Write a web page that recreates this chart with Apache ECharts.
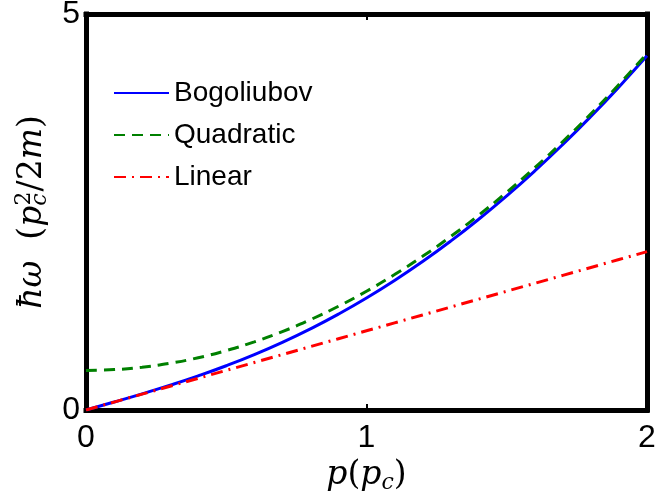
<!DOCTYPE html>
<html>
<head>
<meta charset="utf-8">
<script src="https://cdn.jsdelivr.net/npm/echarts@6/dist/echarts.min.js"></script>
<style>
  html, body { margin: 0; padding: 0; background: #fff; }
  #chart { width: 655px; height: 496px; }
</style>
</head>
<body>
<div id="chart"></div>
<script>
// momentum p in units of p_c
const momentum = [0, 0.1, 0.2, 0.3, 0.4, 0.5, 0.6, 0.7, 0.8, 0.9, 1.0,
                  1.1, 1.2, 1.3, 1.4, 1.5, 1.6, 1.7, 1.8, 1.9, 2.0];
// energies in units of p_c^2/2m
const bogoliubov = [0, 0.1005, 0.2040, 0.3132, 0.4308, 0.5590, 0.6997, 0.8545, 1.0245, 1.2108, 1.4142,
                    1.6353, 1.8745, 2.1322, 2.4087, 2.7042, 3.0189, 3.3529, 3.7064, 4.0795, 4.4721];
const quadratic = [0.50, 0.51, 0.54, 0.59, 0.66, 0.75, 0.86, 0.99, 1.14, 1.31, 1.50,
                   1.71, 1.94, 2.19, 2.46, 2.75, 3.06, 3.39, 3.74, 4.11, 4.50];
const linear = [0, 0.1, 0.2, 0.3, 0.4, 0.5, 0.6, 0.7, 0.8, 0.9, 1.0,
                1.1, 1.2, 1.3, 1.4, 1.5, 1.6, 1.7, 1.8, 1.9, 2.0];
const xTicks = [0, 1, 2];
const yTicks = [0, 5];

const pairs = (ys) => momentum.map((p, i) => [p, ys[i]]);

const sansFont = '"Liberation Sans", Arial, sans-serif';
const serifFont = '"DejaVu Serif", "Liberation Serif", serif';
const frameColor = '#000';

// rich-text styles for the math-style axis titles
const mathRich = {
  i: { fontFamily: serifFont, fontStyle: 'italic', fontSize: 33, lineHeight: 38, verticalAlign: 'middle', color: '#000' },
  n: { fontFamily: serifFont, fontSize: 33, lineHeight: 38, verticalAlign: 'middle', color: '#000' },
  sub: { fontFamily: serifFont, fontStyle: 'italic', fontSize: 22, lineHeight: 21, verticalAlign: 'bottom', color: '#000' },
  sup: { fontFamily: serifFont, fontSize: 22, lineHeight: 21, verticalAlign: 'top', color: '#000', padding: [0, 0, 0, -12] }
};

const chart = echarts.init(document.getElementById('chart'), null, { renderer: 'canvas' });

const frameAxisLine = { show: true, onZero: false, lineStyle: { color: frameColor, width: 5, cap: 'square' } };

chart.setOption({
  animation: false,
  backgroundColor: '#fff',
  grid: { left: 86, right: 8, top: 14, bottom: 86, containLabel: false, outerBoundsMode: 'none' },
  legend: {
    orient: 'vertical',
    left: 113,
    top: 78,
    padding: 0,
    itemWidth: 55,
    itemHeight: 14,
    itemGap: 12,
    itemStyle: { opacity: 0 },
    textStyle: { fontFamily: sansFont, fontSize: 28, color: '#000', lineHeight: 30 },
    data: ['Bogoliubov', 'Quadratic', 'Linear']
  },
  xAxis: [
    {
      type: 'value', position: 'bottom', min: 0, max: 2, interval: 1,
      axisLine: frameAxisLine,
      axisTick: { show: true, inside: true, length: 6, lineStyle: { color: frameColor, width: 2 } },
      axisLabel: {
        fontFamily: sansFont, fontSize: 32, color: '#000', margin: 12,
        formatter: (v) => (xTicks.indexOf(v) >= 0 ? String(v) : '')
      },
      splitLine: { show: false },
      name: '{i|p}{n|(}{i|p}{sub|c}{n|)}',
      nameLocation: 'middle',
      nameGap: 41,
      nameTextStyle: { rich: mathRich }
    },
    {
      type: 'value', position: 'top', min: 0, max: 2, interval: 1,
      axisLine: frameAxisLine,
      axisTick: { show: true, inside: true, length: 6, lineStyle: { color: frameColor, width: 2 } },
      axisLabel: { show: false },
      splitLine: { show: false }
    }
  ],
  yAxis: [
    {
      type: 'value', position: 'left', min: 0, max: 5, interval: 5,
      axisLine: frameAxisLine,
      axisTick: { show: false },
      axisLabel: {
        fontFamily: sansFont, fontSize: 32, color: '#000', margin: 6,
        formatter: (v) => (yTicks.indexOf(v) >= 0 ? String(v) : '')
      },
      splitLine: { show: false },
      name: '{i|ħω}{n|  (}{i|p}{sub|c}{sup|2}{n|/2}{i|m}{n|)}',
      nameLocation: 'middle',
      nameGap: 29,
      nameRotate: 90,
      nameTextStyle: { rich: mathRich }
    },
    {
      type: 'value', position: 'right', min: 0, max: 5, interval: 5,
      axisLine: frameAxisLine,
      axisTick: { show: false },
      axisLabel: { show: false },
      splitLine: { show: false }
    }
  ],
  series: [
    {
      name: 'Bogoliubov', type: 'line', xAxisIndex: 0, yAxisIndex: 0,
      data: pairs(bogoliubov), smooth: true, symbol: 'none', z: 3,
      itemStyle: { color: '#0000ff' },
      lineStyle: { color: '#0000ff', width: 3 }
    },
    {
      name: 'Quadratic', type: 'line', xAxisIndex: 0, yAxisIndex: 0,
      data: pairs(quadratic), smooth: true, symbol: 'none', z: 4,
      itemStyle: { color: '#008000' },
      lineStyle: { color: '#008000', width: 3, type: [11, 7] }
    },
    {
      name: 'Linear', type: 'line', xAxisIndex: 0, yAxisIndex: 0,
      data: pairs(linear), symbol: 'none', z: 5,
      itemStyle: { color: '#ff0000' },
      lineStyle: { color: '#ff0000', width: 3, type: [12, 6, 2, 6] }
    }
  ]
});
</script>
</body>
</html>
